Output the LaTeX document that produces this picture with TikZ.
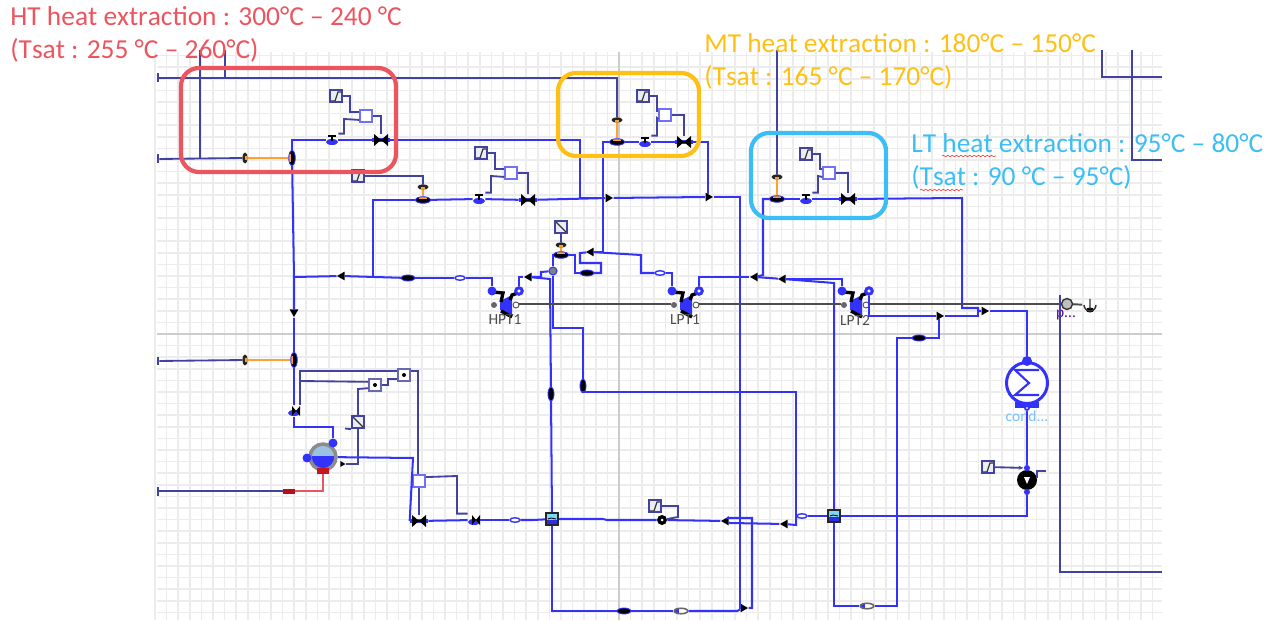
\documentclass[tikz,border=0pt]{standalone}
\usepackage{fontspec}
\setmainfont{Carlito}[Kerning=Off]
\usepackage{tikz}
\usetikzlibrary{arrows.meta, positioning, calc, shapes, decorations.pathmorphing}
\usepackage{xcolor}
\definecolor{pipeblue}{RGB}{50,50,250}
\definecolor{ctrlnavy}{RGB}{66,66,160}
\definecolor{gridgrey}{RGB}{236,236,236}
\definecolor{hotorange}{RGB}{255,160,50}
\definecolor{htred}{RGB}{235,85,95}
\definecolor{mtamber}{RGB}{255,192,20}
\definecolor{ltsky}{RGB}{60,190,245}
\definecolor{steamred}{RGB}{200,20,30}
\definecolor{watersky}{RGB}{155,195,225}
\definecolor{condsky}{RGB}{120,190,250}
\tikzset{
  pipe/.style={draw=pipeblue, line width=1.15pt},
  ctrlline/.style={draw=ctrlnavy, line width=1.05pt},
  hotline/.style={draw=hotorange, line width=1.3pt},
  shaftline/.style={draw=black!70, line width=1.1pt},
  regionbox/.style={draw=#1, line width=2.4pt, rounded corners=0.36cm},
  heatnote/.style={anchor=base west, inner sep=0pt, font=\fontsize{15.6}{17}\selectfont},
  tinylabel/.style={inner sep=0pt, font=\fontsize{8.8}{9}\selectfont},
  inlet/.style={fill=ctrlnavy, inner sep=0pt, minimum width=0.04cm, minimum height=0.18cm},
  rampbox/.style={draw=ctrlnavy, fill=ctrlnavy!10, line width=1pt, inner sep=0pt, minimum size=0.25cm,
    path picture={\draw[black!80, line width=0.7pt] (-5,5) -- (-1,5) -- (2,-4) -- (6,-4);}},
  rampdown/.style={draw=ctrlnavy, fill=ctrlnavy!10, line width=1pt, inner sep=0pt, minimum size=0.25cm,
    path picture={\draw[black!80, line width=0.7pt] (-5,-5) -- (5,5);}},
  mixbox/.style={draw=pipeblue!70, fill=white, line width=0.9pt, inner sep=0pt, minimum size=0.24cm},
  logicbox/.style={draw=ctrlnavy!80, fill=white, line width=0.9pt, inner sep=0pt, minimum size=0.24cm,
    path picture={\fill[black] (0,0) circle[radius=2];}},
  smallvalve/.style={inner sep=0pt, minimum size=0.24cm,
    path picture={\fill[pipeblue] (0,2) ellipse[x radius=6, y radius=3];
      \draw[black, line width=1pt] (-4,-4) -- (4,-4) (0,-4) -- (0,1);}},
  starvalve/.style={inner sep=0pt, minimum size=0.24cm,
    path picture={\fill[pipeblue] (0,2) ellipse[x radius=6, y radius=3];
      \fill[black] (-2,-5) -- (6,5) -- (6,-5) -- (-2,5) -- cycle;}},
  bigvalve/.style={inner sep=0pt, minimum width=0.36cm, minimum height=0.24cm,
    path picture={\fill[pipeblue] (-9,-2) rectangle (9,2);
      \fill[black] (-7,-6) -- (7,6) -- (7,-6) -- (-7,6) -- cycle;
      \draw[black, line width=1pt] (-5,0) -- (5,0);}},
  slimvalve/.style={ellipse, fill=black, inner sep=0pt, minimum width=0.27cm, minimum height=0.12cm,
    draw=pipeblue, line width=0.5pt},
  flowring/.style={ellipse, draw=pipeblue, fill=white, line width=0.8pt, inner sep=0pt, minimum width=0.2cm, minimum height=0.09cm},
  flowlong/.style={ellipse, draw=black!60, fill=white, line width=0.9pt, inner sep=0pt, minimum width=0.27cm, minimum height=0.11cm,
    path picture={\fill[pipeblue] (-8,-4) rectangle (-2,4);}},
  hxfoot/.style={ellipse, fill=black, draw=pipeblue, line width=0.5pt, inner sep=0pt, minimum width=0.3cm, minimum height=0.13cm,
    path picture={\fill[hotorange] (-4,-4) rectangle (4,-1);}},
  hxtop/.style={ellipse, fill=black!85, inner sep=0pt, minimum width=0.22cm, minimum height=0.11cm,
    path picture={\fill[hotorange] (-2,0) rectangle (2,3);}},
  tee/.style={regular polygon, regular polygon sides=3, fill=black, inner sep=0pt, minimum size=0.2cm, shape border rotate=#1},
  dotport/.style={circle, fill=pipeblue, inner sep=0pt, minimum size=0.18cm},
  ringport/.style={circle, fill=white, draw=pipeblue, line width=1.7pt, inner sep=0pt, minimum size=0.13cm},
  shaftport/.style={circle, fill=black!60, inner sep=0pt, minimum size=0.12cm},
  turbinebody/.style={inner sep=0pt, minimum width=0.56cm, minimum height=0.66cm,
    path picture={\fill[pipeblue] (-5,-3) -- (7,-9) -- (7,11) -- (-5,6) -- cycle;
      \draw[black, line width=1.9pt] (-12,-12) -- (-2,-11) -- (-4,-2) (13,-11) -- (7,-9) -- (5,-4) (-4,7) -- (7,13);}},
  preheat/.style={draw=black!85, line width=1pt, inner sep=0pt, minimum size=0.25cm,
    path picture={\fill[cyan!50] (-7,-7) rectangle (7,1); \fill[pipeblue!90!black] (-7,1) rectangle (7,7);
      \draw[black, line width=0.5pt] (-4,0) -- (-1,-1) -- (4,0);}},
  drum/.style={circle, draw=black!45, fill=watersky, line width=2pt, inner sep=0pt, minimum size=0.52cm,
    path picture={\fill[pipeblue] (-14,-1) rectangle (14,14);}},
  condenser/.style={circle, draw=pipeblue, fill=white, line width=1.7pt, inner sep=0pt, minimum size=0.82cm,
    path picture={\draw[pipeblue, line width=1.2pt] (12,-13) -- (-12,-13) -- (2,0) -- (-12,12) -- (12,12);}},
  pumpbody/.style={circle, fill=black, inner sep=0pt, minimum size=#1},
  generator/.style={circle, draw=black!80, fill=black!25, line width=0.8pt, inner sep=0pt, minimum size=0.22cm},
  torque/.style={inner sep=0pt, minimum size=0.3cm,
    path picture={\fill[black] (0,5) ellipse[x radius=4, y radius=2.5];
      \draw[black!80, line width=0.8pt] (-6,0) arc[start angle=180, end angle=0, radius=6] (0,-6) -- (0,4);}},
}
\newcommand{\turbine}[4]{
  \node[turbinebody] (#1) at (#2,#3) {};
  \node[dotport] (#1in) at (#2-13,#3-13) {};
  \node[ringport] (#1out) at (#2+14,#3-13) {};
  \node[shaftport] at (#2-11,#3+1) {};
  \node[shaftport, fill=white, draw=black!70, line width=0.5pt] at (#2+11,#3+1) {};
  \node[tinylabel, text=black!70] (#1label) at (#2,#3+16) {#4};
}

\begin{document}
\begin{tikzpicture}[x=0.02cm, y=-0.02cm]
  \useasboundingbox (0,0) rectangle (1281,621);
  % worksheet grid
  \foreach \i in {0,...,86}
    \draw[gridgrey, line width=0.9pt] (155+\i*11.6,52) -- (155+\i*11.6,620);
  \foreach \k in {-24,...,24}
    \draw[gridgrey, line width=0.9pt] (157,334+\k*11.6) -- (1162,334+\k*11.6);
  \draw[black!20, line width=0.7pt] (619,52) -- (619,620);
  \draw[black!20, line width=0.7pt] (157,334) -- (1162,334);

  % free ends of the control lines
  \coordinate (feedA) at (225,50);
  \coordinate (feedB) at (200,50);
  \coordinate (feedC) at (777,50);
  \coordinate (feedD) at (1102,50);
  \coordinate (feedE) at (1132,50);
  \coordinate (exitD) at (1162,77);
  \coordinate (exitE) at (1162,160);
  \coordinate (exitF) at (1162,572);
  \coordinate (feedF) at (1060,295);

  % inlets on the left edge
  \node[inlet] (inletA) at (158,78) {};
  \node[inlet] (inletB) at (158,159) {};
  \node[inlet] (inletC) at (158,361) {};
  \node[inlet] (inletD) at (158,491) {};

  % feedwater heaters
  \node[hxtop, rotate=90] (httop) at (245,158) {};
  \node[hxfoot, rotate=90] (hthx) at (292,158) {};
  \node[hxtop, rotate=90] (hlowtop) at (245,360) {};
  \node[hxfoot, rotate=90] (hlowhx) at (294,360) {};
  \node[hxtop] (iptop) at (423,187) {};
  \node[hxfoot] (iphx) at (423,200) {};
  \node[hxtop] (mttop) at (617,120) {};
  \node[hxfoot] (mthx) at (617,142) {};
  \node[hxtop] (lttop) at (777,177) {};
  \node[hxfoot] (lthx) at (777,199) {};
  \node[hxtop] (lptop) at (561,245) {};
  \node[hxfoot] (lphx) at (561,255) {};
  \foreach \a/\b in {httop/hthx, hlowtop/hlowhx, iptop/iphx, mttop/mthx, lttop/lthx, lptop/lphx}
    \draw[hotline] (\a) -- (\b);
  \node[rampbox] (rampheat) at (358,176) {};
  \node[rampdown] (ramplp) at (561,227) {};

  % extraction valves with their set points
  \foreach \n/\rx/\ry/\mx/\my/\sx/\sy/\bx/\by in {ht/336/96/366/116/332/140/381/140, ip/481/153/511/173/479/199/528/200, mt/643/96/665/115/645/142/684/142, lt/806/154/829/173/806/199/848/199} {
    \node[rampbox] (ramp\n) at (\rx,\ry) {};
    \node[mixbox] (mix\n) at (\mx,\my) {};
    \node[smallvalve] (small\n) at (\sx,\sy) {};
    \node[bigvalve] (big\n) at (\bx,\by) {};
    \draw[ctrlline] (ramp\n.east) -- ++(7,0) |- (mix\n.150);
    \draw[ctrlline] (mix\n.210) -- (\sx+12,\my+3) |- (small\n.north east);
    \draw[ctrlline] (mix\n.east) -| (big\n.north);
  }

  % turbines and generator
  \turbine{hpt}{505}{304}{HPT1}
  \turbine{lpa}{685}{304}{LPT1}
  \turbine{lpb}{855}{304}{LPT2}
  \node[generator] (gen) at (1067,304) {};
  \node[torque] (torqueout) at (1090,305) {};
  \node[tinylabel, text=violet!70!blue] (genlabel) at (1066,315) {p...};

  % tees
  \node[tee=270] (teeA) at (608,198) {};
  \node[tee=270] (teeB) at (708,197) {};
  \node[tee=180] (teeC) at (294,312) {};
  \node[tee=90] (teeE) at (342,276) {};
  \node[tee=270] (teeF) at (743,608) {};
  \node[tee=90] (teeG) at (591,252) {};
  \node[tee=90] (teeH) at (529,277) {};
  \node[tee=90] (teeJ) at (785,524) {};
  \node[tee=90] (teeK) at (726,521) {};
  \node[tee=90] (teeL) at (783,279) {};
  \node[tee=90] (teeM) at (755,277) {};
  \node[tee=270] (teeN) at (984,311) {};
  \node[tee=270] (teeP) at (939,316) {};

  % line valves and flow elements
  \node[slimvalve] (slimA) at (408,278) {};
  \node[slimvalve] (slimB) at (587,273) {};
  \node[slimvalve, rotate=90] (slimC) at (551,394) {};
  \node[slimvalve, rotate=90] (slimD) at (583,386) {};
  \node[slimvalve] (slimE) at (624,611) {};
  \node[slimvalve] (slimF) at (919,338) {};
  \node[flowring] (flowA) at (460,278) {};
  \node[flowring] (flowB) at (660,273) {};
  \node[flowring] (flowC) at (515,520) {};
  \node[flowring] (flowD) at (802,516) {};
  \node[flowlong] (flowE) at (681,611) {};
  \node[flowlong] (flowF) at (867,606) {};
  \node[circle, fill=black!50, draw=pipeblue, line width=0.6pt, inner sep=0pt, minimum size=0.16cm] (splitter) at (553,271) {};
  \node[preheat] (preheatA) at (552,519) {};
  \node[preheat] (preheatB) at (834,516) {};
  \node[starvalve] (valveD) at (294,411) {};
  \node[bigvalve] (lowvalve) at (419,521) {};
  \node[starvalve] (lowsmall) at (474,520) {};

  % drum
  \node[drum] (drumA) at (323,457) {};
  \node[dotport] (drumtop) at (333,443) {};
  \node[dotport] (drumleft) at (307,458) {};
  \node[fill=steamred, inner sep=0pt, minimum width=0.24cm, minimum height=0.11cm] (drumfoot) at (323,471) {};
  \node[fill=steamred!90!black, inner sep=0pt, minimum width=0.24cm, minimum height=0.1cm] (steamport) at (289,491) {};
  \node[rampdown] (rampdrum) at (358,422) {};
  \node[logicbox] (logicA) at (404,375) {};
  \node[logicbox] (logicB) at (375,385) {};
  \node[mixbox] (mixlow) at (419,481) {};
  \node[tee=270, minimum size=0.14cm] (levelsens) at (342,464) {};
  \coordinate (ticka) at (345,428.5);

  % condenser and pump
  \node[condenser] (cond) at (1027,383) {};
  \node[fill=pipeblue, inner sep=0pt, minimum width=0.48cm, minimum height=0.12cm] (condbase) at (1027,405) {};
  \node[dotport, minimum size=0.2cm] (condin) at (1027,361) {};
  \node[circle, fill=white, draw=pipeblue, line width=1pt, inner sep=0pt, minimum size=0.08cm] (condout) at (1027,408) {};
  \node[tinylabel, text=condsky] (condlabel) at (1027,416) {cond...};
  \node[pumpbody=0.4cm, path picture={\fill[white] (-3,-3) -- (3,-3) -- (0,4) -- cycle;}] (pumpA) at (1027,480) {};
  \node[dotport, minimum size=0.12cm] (pumpin) at (1027,468) {};
  \node[dotport, minimum size=0.12cm] (pumpout) at (1027,492) {};
  \node[rampbox] (ramppump) at (988,467) {};
  \node[pumpbody=0.2cm, path picture={\fill[white] (0,0) circle[radius=1.5];}] (pumpB) at (662,520) {};
  \node[rampbox] (rampfeed) at (655,506) {};
  \coordinate (tickb) at (1037,478);
  \coordinate (tickc) at (1046,471);

  % steam and water pipes
  \coordinate (steamjoin) at (294,277);
  \coordinate (ipjoin) at (373,277);
  \coordinate (lowjoin) at (796,516);
  \draw[pipe] (hthx) -- (steamjoin) -- (teeC);
  \draw[pipe] (hthx) |- (smallht);
  \draw[pipe] (smallht) -- (bight);
  \draw[pipe] (bight) -- (580,140) |- (teeA);
  \draw[pipe] (teeC) -- (hlowhx);
  \draw[pipe] (hlowhx) -- (valveD);
  \draw[pipe] (valveD) |- (333,427) -- (drumtop);
  \draw[pipe] (steamjoin) -- (teeE);
  \draw[pipe] (teeE) -- (slimA);
  \draw[pipe] (slimA) -- (flowA);
  \draw[pipe] (flowA) -| (hptin);
  \draw[pipe] (ipjoin) |- (iphx);
  \draw[pipe] (iphx) -- (smallip);
  \draw[pipe] (smallip) -- (bigip);
  \draw[pipe] (bigip) -- (teeA);
  \draw[pipe] (teeA) -- (teeB);
  \draw[pipe] (teeB) -- (740,197) |- (teeF);
  \draw[pipe] (mthx) -- (smallmt);
  \draw[pipe] (smallmt) -- (bigmt);
  \draw[pipe] (bigmt) -| (teeB);
  \draw[pipe] (mthx) -- (603,142) |- (teeG);
  \draw[pipe] (teeG) -- (641,255) |- (flowB);
  \draw[pipe] (flowB) -| (lpain);
  \draw[pipe] (teeG) -- (580,253) -- (580,263) -- (601,263) |- (slimB);
  \draw[pipe] (slimB) -- (575,273) |- (lphx);
  \draw[pipe] (lphx) -- (553,255) -- (splitter);
  \draw[pipe] (splitter) -- (541,272) -- (541,277) -- (teeH);
  \draw[pipe] (teeH) -| (hptout);
  \draw[pipe] (teeH) -- (550,279) -- (slimC);
  \draw[pipe] (slimC) -- (preheatA);
  \draw[pipe] (splitter) -- (553,328) -| (slimD);
  \draw[pipe] (slimD) |- (796,392) -- (lowjoin);
  \draw[pipe] (preheatB) -- (flowD);
  \draw[pipe] (flowD) -- (lowjoin) -- (796,525) -- (teeJ);
  \draw[pipe] (teeJ) -- (730,523) -- (teeK);
  \draw[pipe] (teeK) -- (728,518) -- (752,518) |- (teeF);
  \draw[pipe] (teeK) -- (pumpB);
  \draw[pipe] (pumpB) -- (607,520) -- (603,519) -- (preheatA);
  \draw[pipe] (preheatA) |- (slimE);
  \draw[pipe] (slimE) -- (flowE);
  \draw[pipe] (flowE) -- (737,611) -- (teeF);
  \draw[pipe] (lpbin) |- (teeL);
  \draw[pipe] (teeL) -- (teeM);
  \draw[pipe] (teeL) -- (834,283) -- (preheatB);
  \draw[pipe] (lpaout) |- (teeM);
  \draw[pipe] (teeM) -- (763,275) |- (lthx);
  \draw[pipe] (lthx) -- (smalllt);
  \draw[pipe] (smalllt) -- (biglt);
  \draw[pipe] (biglt) -- (962,198) -- (962,308) -- (978,308) -- (978,311) -- (teeN);
  \draw[pipe] (teeN) -| (condin);
  \draw[pipe] (lpbout) |- (teeP);
  \draw[pipe] (teeP) -- (978,316) -- (978,311);
  \draw[pipe] (teeP) |- (slimF);
  \draw[pipe] (slimF) -- (897,338) |- (flowF);
  \draw[pipe] (flowF) -| (preheatB);
  \draw[pipe] (preheatB) -| (pumpout);
  \draw[pipe] (condout) -- (pumpin);
  \draw[pipe] (drumA) -- (413,458) -- (lowvalve.west);
  \draw[pipe] (lowvalve) -- (lowsmall);
  \draw[pipe] (lowsmall) -- (flowC);
  \draw[pipe] (flowC) -- (533,520) -- (preheatA);

  % shaft
  \draw[shaftline] (hpt) -- (lpa);
  \draw[shaftline] (lpa) -- (lpb);
  \draw[shaftline] (lpb) -- (gen);
  \draw[shaftline] (gen) -- (torqueout);

  % control lines
  \draw[ctrlline] (inletA) -- (mttop |- inletA) -- (mttop);
  \draw[ctrlline] (inletA -| feedA) -- (feedA);
  \draw[ctrlline] (inletB) -- (httop);
  \draw[ctrlline] (inletB -| feedB) -- (feedB);
  \draw[ctrlline] (inletC) -- (hlowtop);
  \draw[ctrlline] (inletD) -- (steamport);
  \draw[ctrlline] (feedC) -- (lttop);
  \draw[ctrlline] (feedD) |- (exitD);
  \draw[ctrlline] (feedE) |- (exitE);
  \draw[ctrlline] (feedF) |- (exitF);
  \draw[ctrlline] (rampheat) -| (iptop);
  \draw[ctrlline] (ramplp) -- (lptop);
  \draw[ctrlline] (valveD.north east) |- (logicA.150);
  \draw[ctrlline] (300,381) -- (logicB.155);
  \draw[ctrlline] (logicB.east) -- ++(6,0) |- (logicA.210);
  \draw[ctrlline] (logicB.205) -- (358,389) -- (rampdrum);
  \draw[ctrlline] (rampdrum) |- (levelsens);
  \draw[ctrlline] (ticka) -- (rampdrum.south west);
  \draw[ctrlline] (logicA.30) -| (mixlow.100);
  \draw[ctrlline] (mixlow) -- (lowvalve);
  \draw[ctrlline] (mixlow.30) -- (457,476) |- (lowsmall.north west);
  \draw[ctrlline] (rampfeed) -- (678,506) -- (678,517) -- (pumpB);
  \draw[ctrlline, -{Stealth[length=3pt]}] (ramppump) -- (pumpin);
  \draw[ctrlline, line width=0.7pt] (tickb) |- (tickc);

  % red steam branch into the drum
  \draw[draw=htred, line width=1.15pt] (drumfoot) |- (steamport);

  % highlighted regions
  \draw[regionbox=htred] (181,68) rectangle (396,172);
  \draw[regionbox=mtamber] (558,73) rectangle (699,156);
  \draw[regionbox=ltsky] (751,133) rectangle (886,218);

  % notes
  \node[heatnote, text=htred] (htnote) at (10,26) {HT heat extraction : 300°C – 240 °C};
  \node[heatnote, text=htred] (htsat) at (10,59) {(Tsat : 255 °C – 260°C)};
  \node[heatnote, text=mtamber] (mtnote) at (704,53) {MT heat extraction : 180°C – 150°C};
  \node[heatnote, text=mtamber] (mtsat) at (704,86) {(Tsat : 165 °C – 170°C)};
  \node[heatnote, text=ltsky] (ltnote) at (911,153) {LT heat extraction : 95°C – 80°C};
  \node[heatnote, text=ltsky] (ltsat) at (911,186) {(Tsat : 90 °C – 95°C)};
  \draw[red!80, line width=0.35pt, decorate, decoration={snake, amplitude=0.4pt, segment length=2.5pt}] (942,156) -- (996,156);
  \draw[red!80, line width=0.35pt, decorate, decoration={snake, amplitude=0.4pt, segment length=2.5pt}] (920,190) -- (963,190);
\end{tikzpicture}
\end{document}
